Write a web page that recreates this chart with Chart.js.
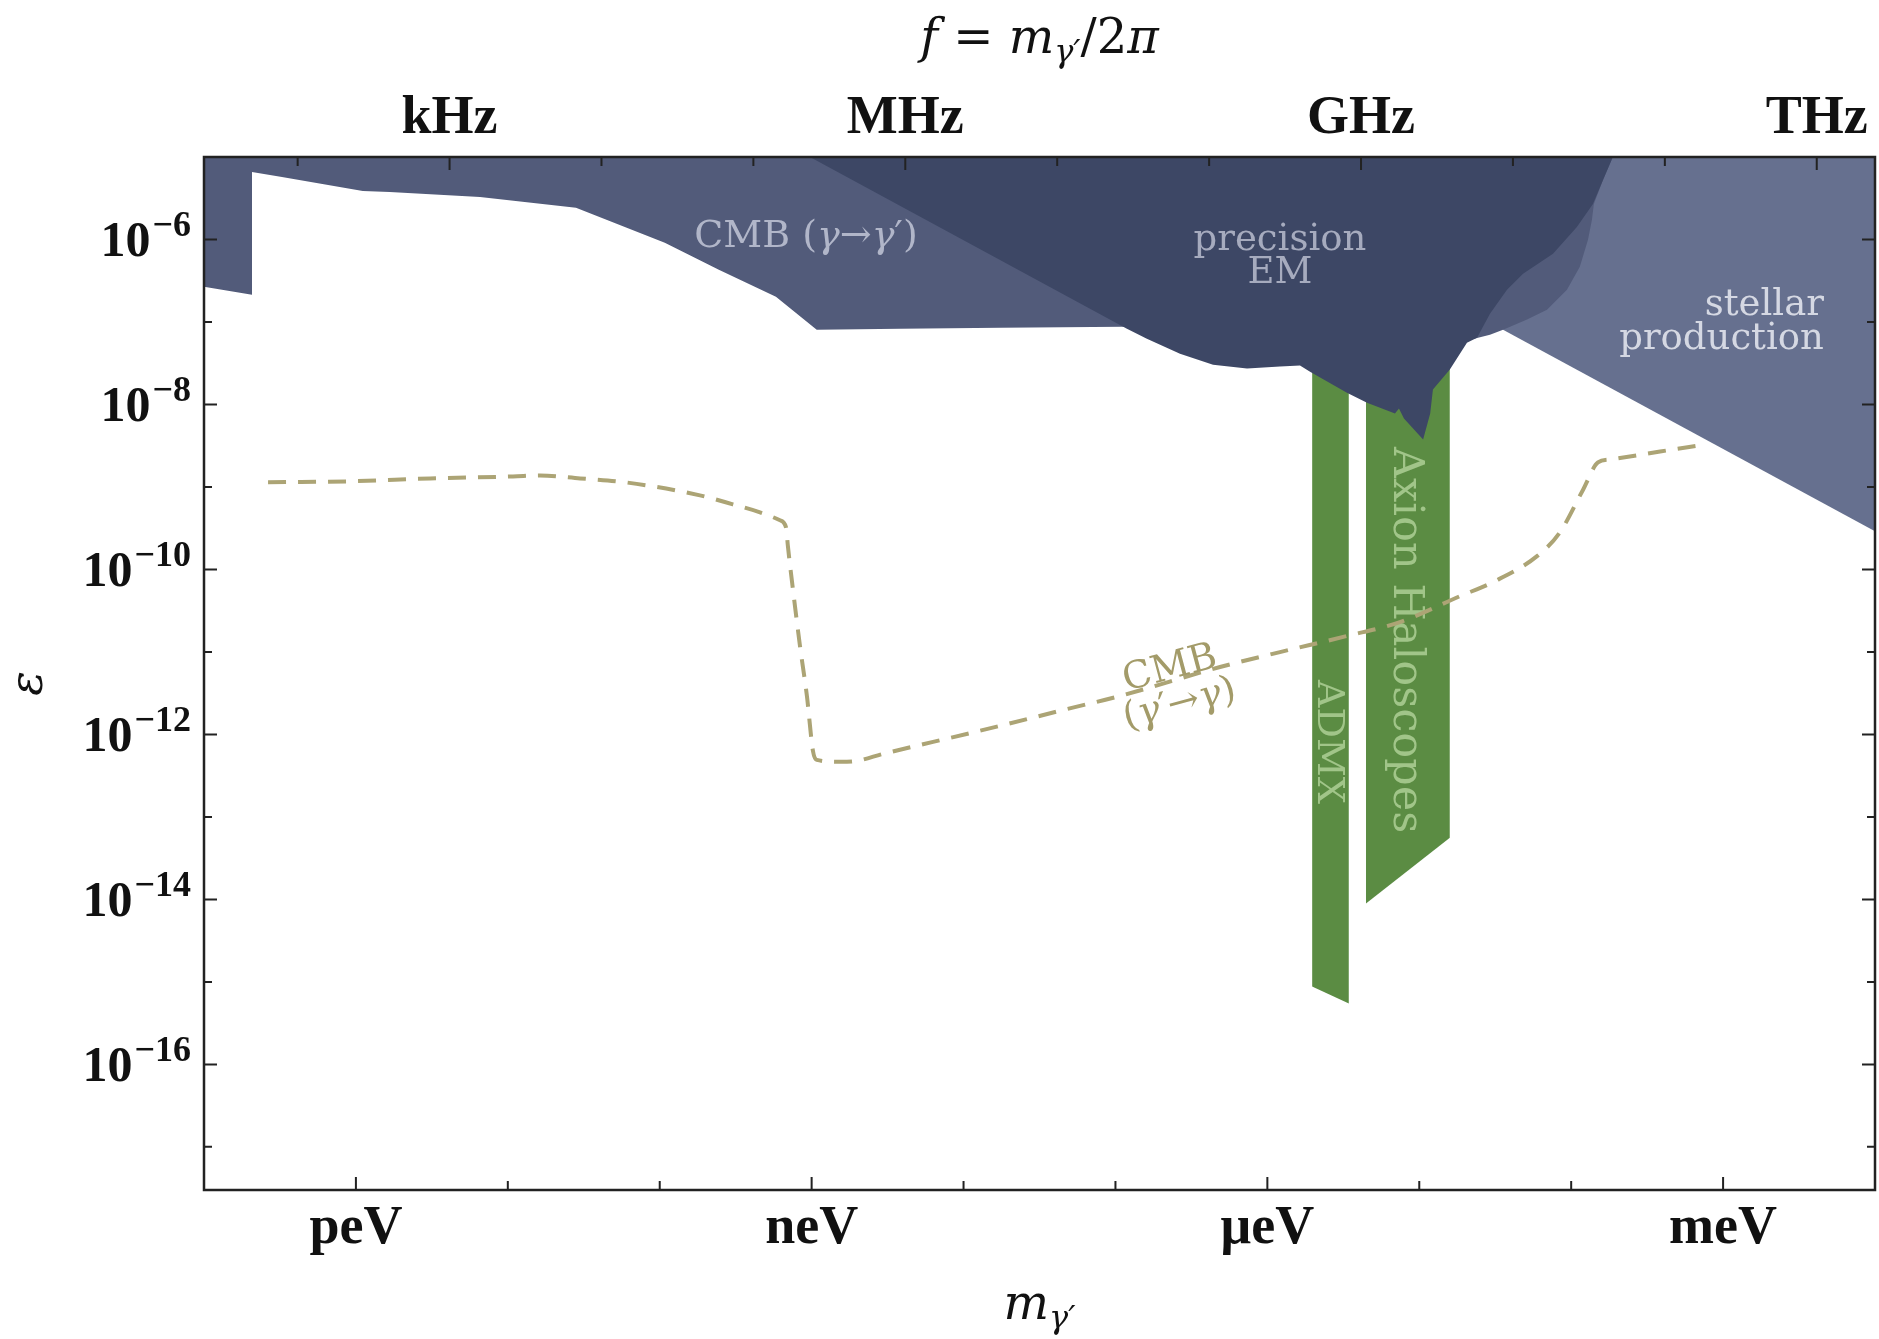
<!DOCTYPE html>
<html lang="en">
<head>
<meta charset="utf-8">
<title>Dark photon kinetic mixing: excluded regions</title>
<script src="https://cdn.jsdelivr.net/npm/chart.js@4.4.1/dist/chart.umd.min.js"></script>
<style>
  html, body { margin: 0; padding: 0; background: #ffffff; }
  #box { position: relative; width: 1879px; height: 1339px; }
  canvas { display: block; }
</style>
</head>
<body>
<div id="box"><canvas id="chart" width="1879" height="1339"></canvas></div>
<script>
// ---------------- axes ----------------
const massRange = [1e-13, 1e-2];                     // m_γ' in eV
const epsRange = [3.162e-18, 1e-5];                  // kinetic mixing ε
const massTickValues = [1e-12, 1e-9, 1e-6, 1e-3];
const massTickLabels = ['peV', 'neV', 'μeV', 'meV'];
const freqTickValues = [1e3, 1e6, 1e9, 1e12];        // Hz
const freqTickLabels = ['kHz', 'MHz', 'GHz', 'THz'];
const epsTickExponents = [-6, -8, -10, -12, -14, -16];

// ---------------- excluded regions (lower edge, excluded above) ----------------
const cmbMass = [1.00e-13, 2.07e-13, 2.07e-13, 3.26e-13, 1.11e-12, 1.67e-12, 6.56e-12, 2.81e-11, 1.08e-10, 2.45e-10,
                 5.82e-10, 1.08e-9, 3.82e-9, 1.74e-8, 1.12e-7, 7.69e-7, 7.46e-6, 2.16e-5, 2.92e-5, 3.56e-5,
                 5.12e-5, 6.93e-5, 9.38e-5, 1.14e-4, 1.29e-4, 1.37e-4, 1.41e-4, 1.62e-4, 1.88e-4];
const cmbEps  = [2.67e-7, 2.14e-7, 6.58e-6, 5.73e-6, 3.88e-6, 3.77e-6, 3.28e-6, 2.42e-6, 9.10e-7, 4.30e-7,
                 2.02e-7, 8.07e-8, 8.30e-8, 8.53e-8, 8.77e-8, 7.01e-8, 6.46e-8, 6.11e-8, 7.01e-8, 8.07e-8,
                 1.07e-7, 1.41e-7, 2.46e-7, 4.67e-7, 9.91e-7, 1.73e-6, 2.70e-6, 5.27e-6, 1.00e-5];

const precisionMass = [9.75e-10, 1.19e-7, 1.61e-7, 2.66e-7, 4.39e-7, 7.35e-7, 1.21e-6, 1.64e-6, 1.91e-6, 3.34e-6,
                       4.53e-6, 6.92e-6, 7.35e-6, 7.93e-6, 1.06e-5, 1.18e-5, 1.23e-5, 1.59e-5, 2.06e-5, 2.40e-5,
                       2.92e-5, 3.78e-5, 4.82e-5, 7.59e-5, 1.09e-4, 1.39e-4, 1.62e-4, 1.88e-4];
const precisionEps  = [1.00e-5, 8.30e-8, 6.28e-8, 4.13e-8, 3.04e-8, 2.72e-8, 2.88e-8, 2.96e-8, 2.50e-8, 1.39e-8,
                       1.05e-8, 7.76e-9, 8.93e-9, 6.76e-9, 3.77e-9, 7.76e-9, 1.52e-8, 2.65e-8, 5.61e-8, 6.46e-8,
                       1.26e-7, 2.46e-7, 3.84e-7, 6.70e-7, 1.42e-6, 2.70e-6, 5.27e-6, 1.00e-5];

const stellarMass = [3.56e-5, 1.00e-2];
const stellarEps  = [8.07e-8, 2.90e-10];

const haloscopeMass = [4.46e-6, 1.59e-5];
const haloscopeEps  = [8.89e-15, 5.58e-14];

const admxMass = [1.97e-6, 3.44e-6];
const admxEps  = [8.79e-16, 5.48e-16];

// ---------------- CMB (γ'→γ) curve ----------------
const cmbDmMass = [2.64e-13, 9.14e-13, 3.08e-12, 1.08e-11, 1.63e-11, 2.99e-11, 5.90e-11, 1.84e-10, 3.03e-10, 4.57e-10,
                   6.19e-10, 6.78e-10, 6.98e-10, 7.53e-10, 8.38e-10, 9.31e-10, 1.02e-9, 1.08e-9, 1.54e-9, 1.99e-9,
                   2.95e-9, 6.30e-9, 1.74e-8, 4.80e-8, 1.07e-7, 4.88e-7, 1.21e-6, 3.34e-6, 7.46e-6, 1.85e-5,
                   3.05e-5, 5.96e-5, 8.43e-5, 1.20e-4, 1.50e-4, 1.80e-4, 3.85e-4, 7.60e-4];
const cmbDmEps  = [1.14e-9, 1.17e-9, 1.27e-9, 1.34e-9, 1.38e-9, 1.27e-9, 1.14e-9, 7.91e-10, 6.15e-10, 4.92e-10,
                   3.94e-10, 3.24e-10, 1.91e-10, 5.75e-11, 1.18e-11, 2.92e-12, 6.31e-13, 4.91e-13, 4.65e-13, 4.78e-13,
                   5.81e-13, 8.11e-13, 1.27e-12, 2.03e-12, 2.92e-12, 6.56e-12, 9.95e-12, 1.56e-11, 2.30e-11, 4.74e-11,
                   7.00e-11, 1.45e-10, 2.82e-10, 9.33e-10, 1.98e-9, 2.15e-9, 2.69e-9, 3.27e-9];

// ---------------- styling ----------------
const H_EV_S = 4.135667696e-15;          // Planck constant in eV·s, f = m / h
const TICK_FAMILY = '"Liberation Serif", "Times New Roman", serif';
const TEXT_FAMILY = '"DejaVu Serif", serif';
const FRAME = '#222222';

const up = s => `${s}px ${TEXT_FAMILY}`;
const it = s => `italic ${s}px ${TEXT_FAMILY}`;

// names written inside the regions (anchored in data units)
const regionLabels = [
  { runs: [['CMB (', 0], ['γ', 1], ['→', 0], ['γ', 1], ['′)', 0]], m: 9.19e-10, eps: 8.15e-7, size: 38, color: '#b1b6c9', align: 'center' },
  { runs: [['precision', 0]], m: 1.21e-6, eps: 7.50e-7, size: 37, color: '#a6abbe', align: 'center' },
  { runs: [['EM', 0]], m: 1.21e-6, eps: 2.99e-7, size: 37, color: '#a6abbe', align: 'center' },
  { runs: [['stellar', 0]], m: 4.61e-3, eps: 1.22e-7, size: 37, color: '#d5d8e3', align: 'right' },
  { runs: [['production', 0]], m: 4.61e-3, eps: 4.75e-8, size: 37, color: '#d5d8e3', align: 'right' },
  { runs: [['ADMX', 0]], m: 2.51e-6, eps: 8.11e-13, size: 38, color: '#a1c589', align: 'center', rotate: 90 },
  { runs: [['Axion Haloscopes', 0]], m: 8.05e-6, eps: 1.39e-11, size: 43, color: '#a1c589', align: 'center', rotate: 90 },
];
const curveLabel = {
  lines: [[['CMB', 0]], [['(', 0], ['γ', 1], ['′→', 0], ['γ', 1], [')', 0]]],
  m: 2.29e-7, eps: 6.19e-12, size: 38, color: '#a39b69', angle: -15, lineGap: 37
};

// ---------------- helpers ----------------
function pts(ms, es) { return ms.map((m, i) => ({ x: m, y: es[i] })); }

function region(id, label, ms, es, color, order) {
  return { id, label, data: pts(ms, es), fill: 'end', backgroundColor: color,
           borderColor: 'rgba(0,0,0,0)', borderWidth: 0, pointRadius: 0, tension: 0, order };
}

function drawRuns(ctx, runs, x, y, align) {
  let w = 0;
  for (const r of runs) { ctx.font = r.font; r.w = ctx.measureText(r.t).width + (r.gap || 0); w += r.w; }
  let cx = align === 'center' ? x - w / 2 : align === 'right' ? x - w : x;
  for (const r of runs) { ctx.font = r.font; ctx.fillText(r.t, cx + (r.gap || 0), y + (r.dy || 0)); cx += r.w; }
}
const toRuns = (list, size) => list.map(([t, ital]) => ({ t, font: ital ? it(size) : up(size) }));

function decadePixel(scale, e) { return scale.getPixelForValue(Number('1e' + e)); }
function innerDecades(scale) {
  const lo = Math.ceil(Math.log10(scale.min) + 1e-9), hi = Math.floor(Math.log10(scale.max) - 1e-9);
  const out = []; for (let e = lo; e <= hi; e++) out.push(e); return out;
}

function drawRegionLabels(chart) {
  const { ctx, scales } = chart;
  for (const L of regionLabels) {
    const px = scales.x.getPixelForValue(L.m), py = scales.y.getPixelForValue(L.eps);
    ctx.save();
    ctx.translate(px, py);
    ctx.fillStyle = L.color; ctx.textAlign = 'left';
    if (L.rotate) { ctx.rotate(L.rotate * Math.PI / 180); ctx.textBaseline = 'middle'; }
    else ctx.textBaseline = 'alphabetic';
    drawRuns(ctx, toRuns(L.runs, L.size), 0, 0, L.align);
    ctx.restore();
  }
}

function drawCurveLabel(chart) {
  const { ctx, scales } = chart;
  const L = curveLabel;
  ctx.save();
  ctx.translate(scales.x.getPixelForValue(L.m), scales.y.getPixelForValue(L.eps));
  ctx.rotate(L.angle * Math.PI / 180);
  ctx.fillStyle = L.color; ctx.textAlign = 'left'; ctx.textBaseline = 'middle';
  L.lines.forEach((line, i) => drawRuns(ctx, toRuns(line, L.size), 0, i * L.lineGap, 'center'));
  ctx.restore();
}

function drawFrame(chart) {
  const { ctx, chartArea: a, scales } = chart;
  ctx.save();
  ctx.strokeStyle = FRAME; ctx.lineWidth = 2; ctx.lineCap = 'butt';
  ctx.beginPath();
  for (const e of innerDecades(scales.x)) {
    const px = decadePixel(scales.x, e), len = e % 3 === 0 ? 13 : 9;
    ctx.moveTo(px, a.bottom); ctx.lineTo(px, a.bottom - len);
  }
  for (const e of innerDecades(scales.xTop)) {
    const px = decadePixel(scales.xTop, e), len = e % 3 === 0 ? 13 : 9;
    ctx.moveTo(px, a.top); ctx.lineTo(px, a.top + len);
  }
  for (const e of innerDecades(scales.y)) {
    const py = decadePixel(scales.y, e), len = e % 2 === 0 ? 13 : 8;
    ctx.moveTo(a.left, py); ctx.lineTo(a.left + len, py);
    ctx.moveTo(a.right, py); ctx.lineTo(a.right - len, py);
  }
  ctx.stroke();
  ctx.lineWidth = 2.5;
  ctx.strokeRect(a.left, a.top, a.right - a.left, a.bottom - a.top);
  ctx.restore();
}

function drawEpsTicks(chart) {
  const { ctx, chartArea: a, scales } = chart;
  ctx.save();
  ctx.fillStyle = '#111111'; ctx.textAlign = 'left'; ctx.textBaseline = 'alphabetic';
  for (const e of epsTickExponents) {
    const py = decadePixel(scales.y, e);
    drawRuns(ctx, [
      { t: '10', font: `bold 50px ${TICK_FAMILY}` },
      { t: '\u2212' + Math.abs(e), font: `bold 36px ${TICK_FAMILY}`, dy: -20, gap: 2 },
    ], a.left - 13, py + 17, 'right');
  }
  ctx.restore();
}

function drawTitles(chart) {
  const { ctx, chartArea: a } = chart;
  const cx = (a.left + a.right) / 2;
  ctx.save();
  ctx.fillStyle = '#111111'; ctx.textAlign = 'left'; ctx.textBaseline = 'alphabetic';
  drawRuns(ctx, [
    { t: 'f', font: it(48) }, { t: ' = ', font: up(48) }, { t: 'm', font: it(48) },
    { t: 'γ′', font: it(32), dy: 9 }, { t: '/2', font: up(48) }, { t: 'π', font: it(48) }
  ], cx, a.top - 104, 'center');
  drawRuns(ctx, [{ t: 'm', font: it(48) }, { t: 'γ′', font: it(32), dy: 9 }], cx, a.bottom + 129, 'center');
  ctx.translate(30, (a.top + a.bottom) / 2 + 10);
  ctx.rotate(-Math.PI / 2);
  ctx.font = it(46); ctx.textAlign = 'center'; ctx.textBaseline = 'middle';
  ctx.fillText('ε', 0, 0);
  ctx.restore();
}

const decorations = {
  id: 'decorations',
  afterDatasetDraw(chart, args) {
    // region names sit above every fill but under the dashed curve
    if (chart.data.datasets[args.index].id === 'precision') drawRegionLabels(chart);
  },
  afterDatasetsDraw(chart) {
    drawCurveLabel(chart);
    drawFrame(chart);
    drawEpsTicks(chart);
    drawTitles(chart);
  }
};

// ---------------- chart ----------------
const axisTickFont = { family: TICK_FAMILY, size: 54, weight: 'bold' };

new Chart(document.getElementById('chart'), {
  type: 'line',
  data: {
    datasets: [
      { id: 'cmbdm', label: 'CMB (γ′→γ)', data: pts(cmbDmMass, cmbDmEps), fill: false,
        borderColor: '#aca475', borderWidth: 4, borderDash: [18, 12], pointRadius: 0,
        cubicInterpolationMode: 'monotone', order: 0 },
      region('precision', 'precision EM', precisionMass, precisionEps, '#3d4765', 1),
      region('cmb', 'CMB (γ→γ′)', cmbMass, cmbEps, '#525b7a', 2),
      region('stellar', 'stellar production', stellarMass, stellarEps, '#66708f', 3),
      region('haloscopes', 'Axion Haloscopes', haloscopeMass, haloscopeEps, '#5b8c43', 4),
      region('admx', 'ADMX', admxMass, admxEps, '#5b8c43', 4),
    ]
  },
  options: {
    responsive: false,
    devicePixelRatio: 1,
    animation: false,
    layout: { padding: { left: 0, right: 4, top: 0, bottom: 0 } },
    plugins: { legend: { display: false }, tooltip: { enabled: false } },
    elements: { line: { borderJoinStyle: 'round' } },
    scales: {
      x: {
        type: 'logarithmic', position: 'bottom', min: massRange[0], max: massRange[1],
        grid: { display: false, drawTicks: false }, border: { display: false },
        afterBuildTicks: s => { s.ticks = massTickValues.map(v => ({ value: v })); },
        ticks: { autoSkip: false, maxRotation: 0, padding: 7, color: '#111111', font: axisTickFont,
                 callback: (v, i) => massTickLabels[i] },
        afterFit: s => { s.height = 149; }
      },
      xTop: {
        type: 'logarithmic', position: 'top', min: massRange[0] / H_EV_S, max: massRange[1] / H_EV_S,
        grid: { display: false, drawTicks: false }, border: { display: false },
        afterBuildTicks: s => { s.ticks = freqTickValues.map(v => ({ value: v })); },
        ticks: { autoSkip: false, maxRotation: 0, padding: 6, color: '#111111', font: axisTickFont,
                 callback: (v, i) => freqTickLabels[i] },
        afterFit: s => { s.height = 157; }
      },
      y: {
        type: 'logarithmic', position: 'left', min: epsRange[0], max: epsRange[1],
        grid: { display: false, drawTicks: false }, border: { display: false },
        ticks: { display: false },
        afterFit: s => { s.width = 204; }
      }
    }
  },
  plugins: [decorations]
});
</script>
</body>
</html>
